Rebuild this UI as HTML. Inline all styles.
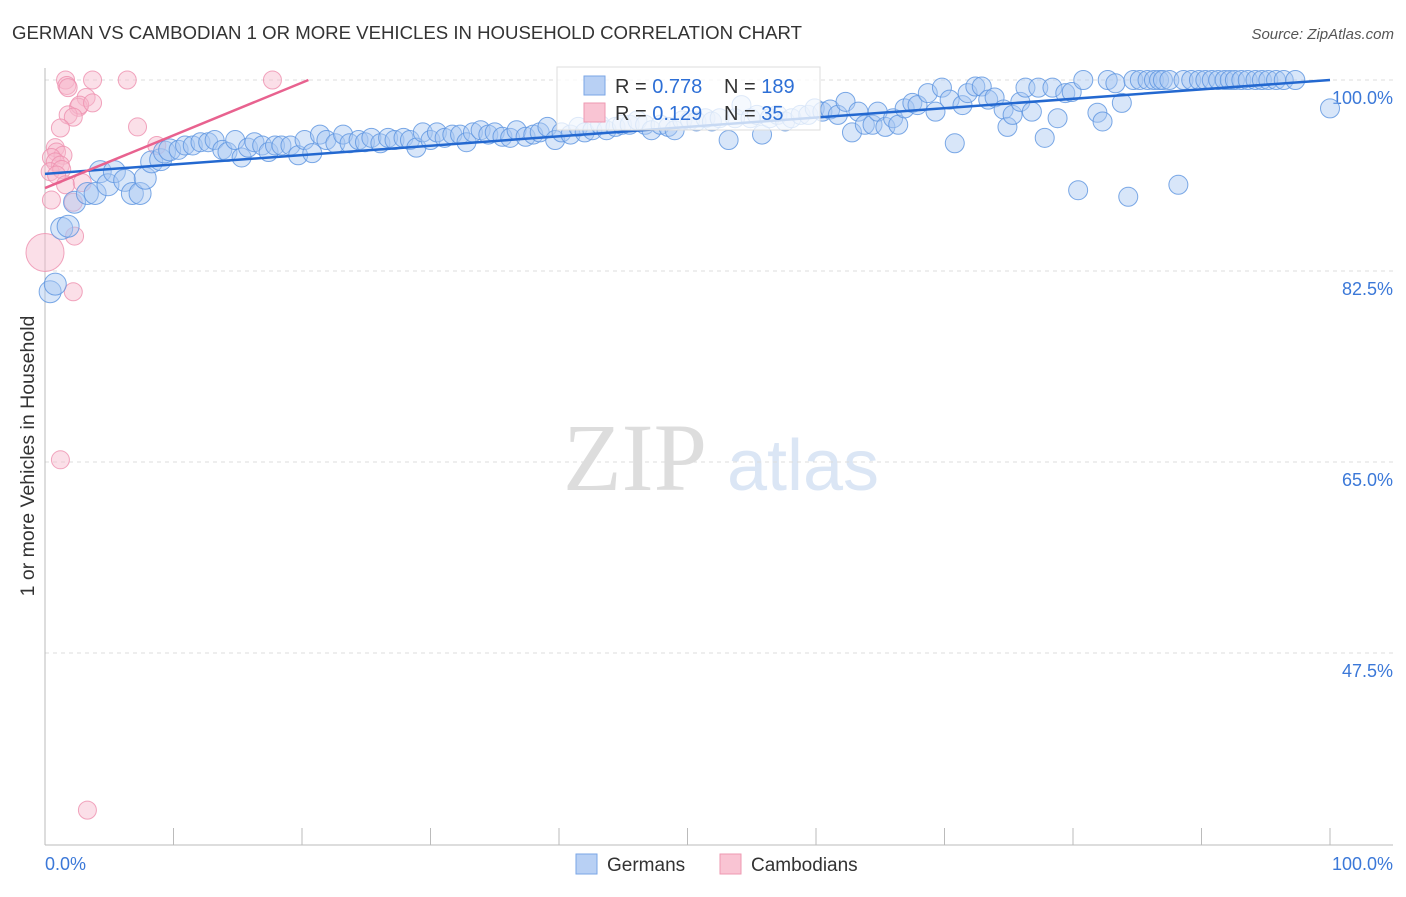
<!DOCTYPE html>
<html><head><meta charset="utf-8"><style>
body{margin:0;background:#fff;font-family:"Liberation Sans",sans-serif;}
</style></head><body>
<svg width="1406" height="892" xmlns="http://www.w3.org/2000/svg" style="font-family:'Liberation Sans',sans-serif">
<text x="12" y="39" font-size="18.5" fill="#333" textLength="790" lengthAdjust="spacingAndGlyphs">GERMAN VS CAMBODIAN 1 OR MORE VEHICLES IN HOUSEHOLD CORRELATION CHART</text>
<text x="1394" y="39" font-size="15" fill="#555" font-style="italic" text-anchor="end">Source: ZipAtlas.com</text>
<g>
<text x="635" y="490" font-size="96" fill="#ddd" font-family="Liberation Serif" text-anchor="middle">ZIP</text>
<text x="803" y="490" font-size="72" fill="#dbe6f5" text-anchor="middle">atlas</text>
</g>
<g id="grid"></g>
<g id="axes"></g>
<g id="pink"></g>
<g id="blue"></g>
<g id="trends"></g>
<g>
<rect x="557" y="67" width="263" height="63" fill="#fff" fill-opacity="0.75" stroke="#ddd"/>
<rect x="584" y="76" width="21" height="19" fill="#b8d0f4" stroke="#7aa6e6"/>
<rect x="584" y="103" width="21" height="19" fill="#f9c4d3" stroke="#ee99b2"/>
<text x="615" y="93" font-size="20" fill="#333">R = <tspan fill="#2d6fd6">0.778</tspan></text>
<text x="724" y="93" font-size="20" fill="#333">N = <tspan fill="#2d6fd6">189</tspan></text>
<text x="615" y="120" font-size="20" fill="#333">R = <tspan fill="#2d6fd6"> 0.129</tspan></text>
<text x="724" y="120" font-size="20" fill="#333">N = <tspan fill="#2d6fd6"> 35</tspan></text>
</g>
<g>
<rect x="576" y="854" width="21" height="20" fill="#b8d0f4" stroke="#7aa6e6"/>
<text x="607" y="871" font-size="19" fill="#333">Germans</text>
<rect x="720" y="854" width="21" height="20" fill="#f9c4d3" stroke="#ee99b2"/>
<text x="751" y="871" font-size="19" fill="#333">Cambodians</text>
</g>
<text transform="translate(34,456) rotate(-90)" font-size="19.5" fill="#333" text-anchor="middle">1 or more Vehicles in Household</text>
</svg>
<script>
const yTicks=[100,82.5,65,47.5];
const yTickLabels=["100.0%","82.5%","65.0%","47.5%"];
const xTickLabels=["0.0%","100.0%"];
const blueX=[0.4,0.8,1.3,1.8,2.3,3.3,3.9,4.3,4.9,5.4,6.2,6.8,7.4,7.8,8.3,9.0,9.3,9.7,10.4,10.9,11.5,12.1,12.7,13.2,13.8,14.2,14.8,15.3,15.8,16.3,16.9,17.4,17.9,18.4,19.1,19.7,20.2,20.8,21.4,21.9,22.6,23.2,23.7,24.4,24.9,25.4,26.1,26.7,27.2,27.9,28.4,28.9,29.4,30.0,30.5,31.1,31.7,32.3,32.8,33.3,33.9,34.5,35.0,35.6,36.2,36.7,37.4,38.0,38.5,39.1,39.7,40.2,40.9,41.5,42.0,42.6,43.2,43.7,44.4,44.9,45.5,46.1,46.7,47.2,47.9,48.5,49.0,49.6,50.2,50.7,51.4,51.9,52.5,53.2,53.7,54.2,54.9,55.4,55.8,56.4,57.0,57.6,58.1,58.8,59.4,59.9,60.5,61.1,61.7,62.3,62.8,63.3,63.8,64.4,64.8,65.4,66.0,66.4,66.9,67.5,67.9,68.7,69.3,69.8,70.4,70.8,71.4,71.8,72.4,72.9,73.4,73.9,74.6,74.9,75.3,75.9,76.3,76.8,77.3,77.8,78.4,78.8,79.4,79.9,80.4,80.8,81.9,82.3,82.7,83.3,83.8,84.3,84.7,85.2,85.8,86.3,86.7,87.0,87.5,88.2,88.6,89.2,89.8,90.3,90.8,91.3,91.8,92.2,92.6,93.1,93.6,94.2,94.7,95.2,95.8,96.4,97.3,100];
const blueY=[80.6,81.3,86.4,86.6,88.8,89.6,89.6,91.6,90.4,91.6,90.8,89.6,89.6,91.0,92.5,92.7,93.4,93.6,93.6,94.0,94.0,94.3,94.3,94.5,93.6,93.4,94.5,92.9,93.8,94.3,94.0,93.4,94.0,94.0,94.0,93.1,94.5,93.3,95.0,94.5,94.2,95.0,94.2,94.5,94.3,94.7,94.2,94.7,94.5,94.7,94.5,93.8,95.2,94.5,95.2,94.7,95.0,95.0,94.3,95.2,95.4,95.0,95.2,94.8,94.7,95.4,94.8,95.0,95.2,95.7,94.5,95.2,95.0,95.7,95.2,95.4,95.9,95.4,95.7,95.9,95.9,96.3,95.9,95.4,95.9,95.7,95.4,96.3,96.3,96.2,96.5,96.2,96.5,94.5,96.5,97.7,96.5,96.8,95.0,96.5,96.8,96.2,96.5,96.8,96.8,97.4,97.1,97.3,96.8,98.0,95.2,97.1,95.9,95.9,97.1,95.7,96.5,95.9,97.4,97.9,97.7,98.8,97.1,99.3,98.2,94.2,97.7,98.8,99.4,99.4,98.2,98.4,97.3,95.7,96.8,98.0,99.3,97.1,99.3,94.7,99.3,96.5,98.8,98.9,89.9,100,97.0,96.2,100,99.7,97.9,89.3,100,100,100,100,100,100,100,90.4,100,100,100,100,100,100,100,100,100,100,100,100,100,100,100,100,100,97.4];
const pinkX=[1.6,1.7,1.8,3.7,6.4,17.7,3.2,2.6,2.7,3.7,1.8,2.2,1.2,7.2,0.8,0.9,1.4,0.5,0.8,1.2,0.4,1.3,0.9,1.6,2.9,0.5,2.2,2.3,0,2.2,1.2,3.3,8.7];
const pinkY=[100,99.5,99.3,100,100,100,98.4,97.5,97.7,97.9,96.8,96.6,95.6,95.7,93.8,93.4,93.1,92.9,92.5,92.2,91.6,91.8,91.3,90.4,90.6,89.0,88.8,85.7,84.2,80.6,65.2,33.1,94.0];
const pinkR=[9,9,9,9,9,9,9,9,9,9,9,9,9,9,9,9,9,9,9,9,9,9,9,9,9,9,9,9,19,9,9,9,9];
const trendBlue=[91.4,100];
const trendPink=[90.1,100];
const trendPinkEnd=20.5;
const NS="http://www.w3.org/2000/svg";
const X=v=>45+v*12.85, Y=v=>80+(100-v)*10.914;
function mk(t,a,p){const e=document.createElementNS(NS,t);for(const k in a)e.setAttribute(k,a[k]);p.appendChild(e);return e;}
const grid=document.getElementById('grid'),axes=document.getElementById('axes');
yTicks.forEach((v,i)=>{
 const l=mk('line',{x1:45,x2:1393,y1:Y(v),y2:Y(v),stroke:'#ddd','stroke-dasharray':'4,4'},grid);
 
 
 const t=mk('text',{x:1393,y:Y(v)+24,'font-size':18,fill:'#3b78d8','text-anchor':'end'},axes);
 t.textContent=yTickLabels[i];
 
 
});
mk('line',{x1:45,x2:45,y1:68,y2:845,stroke:'#bbb'},axes);
mk('line',{x1:45,x2:1393,y1:845,y2:845,stroke:'#bbb'},axes);
for(let i=0;i<=10;i++){const t=mk('line',{x1:X(i*10),x2:X(i*10),y1:828,y2:845,stroke:'#bbb'},axes);
 
 }
[[0,'start',45],[1,'end',1393]].forEach(([i,a,x])=>{const t=mk('text',{x:x,y:870,'font-size':18,fill:'#3b78d8','text-anchor':a},axes);t.textContent=xTickLabels[i];
 
 });
const pg=document.getElementById('pink');
pinkX.forEach((x,i)=>{const c=mk('circle',{cx:X(x),cy:Y(pinkY[i]),r:pinkR[i],fill:'#f7b8cb','fill-opacity':0.45,stroke:'#ee8fae','stroke-opacity':0.8},pg);
 
 });
const bg=document.getElementById('blue');
const n=Math.min(blueX.length,blueY.length);
for(let i=0;i<n;i++){const x=blueX[i];const c=mk('circle',{cx:X(x),cy:Y(blueY[i]),r:x<10?11:9.5,fill:'#a9c7f1','fill-opacity':0.45,stroke:'#5b93e0','stroke-opacity':0.8},bg);
 
 }
const tg=document.getElementById('trends');
const tb=mk('line',{x1:X(0),y1:Y(trendBlue[0]),x2:X(100),y2:Y(trendBlue[1]),stroke:'#2368d0','stroke-width':2.5},tg);


const tp=mk('line',{x1:X(0),y1:Y(trendPink[0]),x2:X(trendPinkEnd),y2:Y(trendPink[1]),stroke:'#e8628f','stroke-width':2.5},tg);


</script>
</body></html>
